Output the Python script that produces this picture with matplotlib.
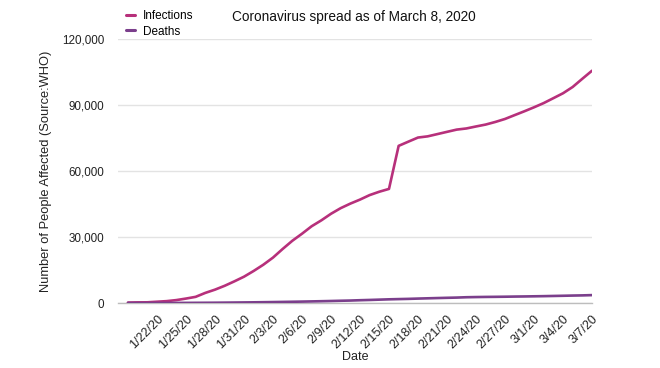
import matplotlib
matplotlib.use("Agg")
import matplotlib.pyplot as plt
import matplotlib.dates as mdates
import matplotlib.ticker as mticker
import pandas as pd

plt.rcParams['font.family'] = ['Liberation Sans', 'DejaVu Sans']

dates = pd.date_range("2020-01-19", "2020-03-07", freq="D")
infections = [200, 282, 314, 581, 846, 1320, 2014, 2798, 4593, 6065, 7818, 9826,
              11953, 14557, 17391, 20630, 24554, 28276, 31481, 34886, 37558, 40554,
              43103, 45171, 46997, 49053, 50580, 51857, 71429, 73332, 75204, 75748,
              76769, 77794, 78811, 79331, 80239, 81109, 82294, 83652, 85403, 87137,
              88948, 90870, 93090, 95333, 98192, 101923, 105586]
deaths = [4, 6, 6, 17, 25, 41, 56, 80, 106, 132, 170, 213, 259, 305, 362, 426, 492,
          565, 638, 724, 813, 910, 1018, 1115, 1261, 1383, 1526, 1669, 1775, 1873,
          2009, 2129, 2247, 2360, 2462, 2618, 2699, 2762, 2804, 2858, 2924, 2977,
          3043, 3112, 3198, 3286, 3381, 3460, 3584]
tick_dates = pd.date_range("2020-01-22", "2020-03-07", freq="3D")
y_ticks = [0, 30000, 60000, 90000, 120000]

c_inf = '#B7307B'
c_dea = '#7B3F8C'

fig = plt.figure(figsize=(6.6, 3.68), dpi=100)
ax = fig.add_axes([118/660, 1-303/368, (592-118)/660, (303-39)/368])

ax.plot(dates, infections, color=c_inf, lw=1.9, solid_capstyle='round', label='Infections', zorder=3)
ax.plot(dates, deaths, color=c_dea, lw=1.9, solid_capstyle='round', label='Deaths', zorder=3)

x0 = mdates.date2num(dates[0]) - 1.03
x1 = mdates.date2num(dates[-1])
ax.set_xlim(x0, x1)
ax.set_ylim(0, 120000)

ax.set_yticks(y_ticks)
ax.yaxis.set_major_formatter(mticker.FuncFormatter(lambda v, p: f"{int(v):,}"))
ax.set_xticks(mdates.date2num(tick_dates))
ax.set_xticklabels([f"{d.month}/{d.day}/{d.strftime('%y')}" for d in tick_dates],
                   rotation=45, ha='right', rotation_mode='anchor', fontsize=9.0, color='#222222')
ax.tick_params(axis='both', length=0)
ax.tick_params(axis='y', pad=10, labelsize=8.4, labelcolor='#222222')
ax.tick_params(axis='x', pad=7)

ax.grid(axis='y', color='#e3e3e3', lw=1.0)
ax.set_axisbelow(True)
for s in ['top', 'right', 'left']:
    ax.spines[s].set_visible(False)
ax.spines['bottom'].set_color('#bdbdbd')
ax.spines['bottom'].set_linewidth(1.0)

ax.set_ylabel("Number of People Affected (Source:WHO)", fontsize=9.3, color='#222222')
ax.yaxis.set_label_coords((52-118)/(592-118), 0.5)
ax.set_xlabel("Date", fontsize=9.0, color='#222222', va='center')
ax.xaxis.set_label_coords(0.5, -(357-303)/(303-39))

fig.text(354/660, 1-17/368, "Coronavirus spread as of March 8, 2020", ha='center', va='center',
         fontsize=9.8, color='#111111')

leg = fig.legend(loc='upper left', bbox_to_anchor=(126/660, 1-10/368), frameon=False,
                 fontsize=8.5, handlelength=0.8, handletextpad=0.6, labelspacing=0.3,
                 borderaxespad=0, borderpad=0)
for h in leg.get_lines():
    h.set_linewidth(2.2)

fig.savefig("out.png", dpi=100)
